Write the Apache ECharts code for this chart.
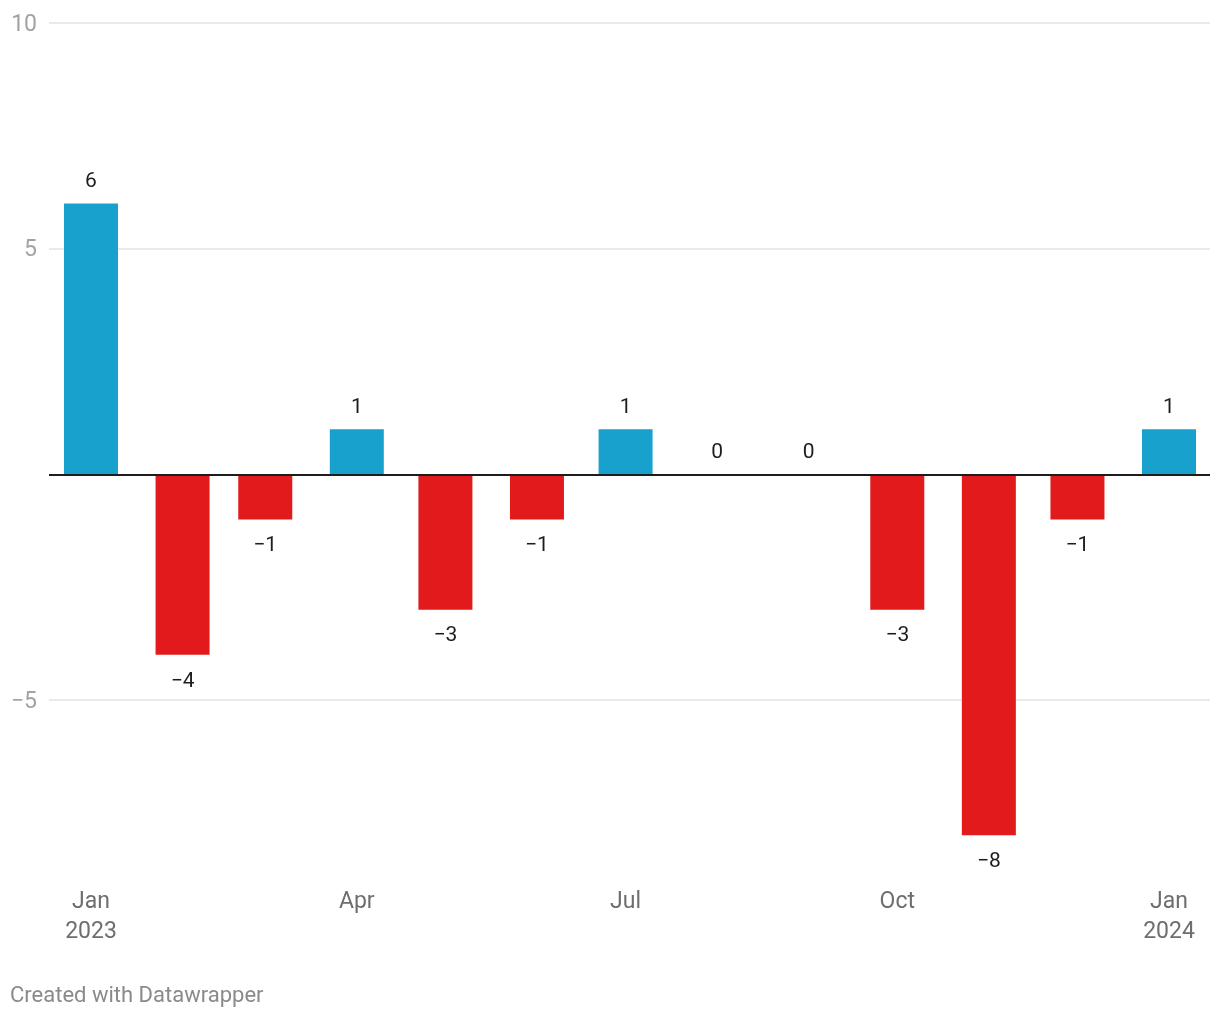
<!DOCTYPE html>
<html>
<head>
<meta charset="utf-8">
<script src="https://cdn.jsdelivr.net/npm/echarts@6/dist/echarts.min.js"></script>
<style>
html,body{margin:0;padding:0;background:#fff;}
#chart{width:1220px;height:1020px;}
</style>
</head>
<body>
<div id="chart"></div>
<script>
// Data
const months = ['2023-01','2023-02','2023-03','2023-04','2023-05','2023-06','2023-07','2023-08','2023-09','2023-10','2023-11','2023-12','2024-01'];
const values = [6, -4, -1, 1, -3, -1, 1, 0, 0, -3, -8, -1, 1];
const tickMonths = ['2023-01','2023-04','2023-07','2023-10','2024-01'];
const tickLabels = ['Jan\n2023','Apr','Jul','Oct','Jan\n2024'];
const yTicks = [-5, 5, 10];

const DAY = 86400000;
const origin = Date.UTC(2023, 0, 1);
function dayOf(s){ const p = s.split('-'); return (Date.UTC(+p[0], +p[1]-1, 1) - origin) / DAY; }
const tickDays = tickMonths.map(dayOf);
const fmtNum = v => (v < 0 ? '\u2212' + Math.abs(v) : String(v));

const blue = '#18a1cd', red = '#e31a1c';
const barData = months.map((m, i) => {
  const v = values[i];
  return {
    value: [dayOf(m), v],
    itemStyle: { color: v < 0 ? red : blue },
    label: { position: v < 0 ? 'bottom' : 'top', distance: v < 0 ? 16 : 11 }
  };
});

const chart = echarts.init(document.getElementById('chart'), null, {renderer: 'canvas'});
chart.setOption({
  animation: false,
  textStyle: { fontFamily: 'Roboto' },
  grid: { left: 49, right: 10, top: 23, bottom: 139.5, containLabel: false },
  xAxis: {
    type: 'value',
    min: -14.22,
    max: 378.88,
    axisLine: { show: false },
    axisTick: { show: false, customValues: tickDays },
    splitLine: { show: false },
    axisLabel: {
      customValues: tickDays,
      formatter: v => { const i = tickDays.indexOf(v); return i >= 0 ? tickLabels[i] : ''; },
      color: '#6e6e6e', fontSize: 23, lineHeight: 30, margin: 7, fontFamily: 'Roboto'
    }
  },
  yAxis: {
    type: 'value',
    min: -9,
    max: 10,
    axisLine: { show: false },
    axisTick: { show: false, customValues: yTicks },
    splitLine: { show: true, lineStyle: { color: '#e3e3e3', width: 1.5 } },
    axisLabel: {
      customValues: yTicks,
      formatter: v => '{t|' + fmtNum(v) + '}',
      margin: 12,
      rich: {
        t: { color: '#a3a3a3', fontSize: 23, fontFamily: 'Roboto', lineHeight: 26, padding: [4, 0, 0, 0] }
      }
    }
  },
  series: [{
    type: 'bar',
    barWidth: 54,
    data: barData,
    label: {
      show: true,
      color: '#1d1d1d',
      fontSize: 21,
      fontFamily: 'Roboto',
      formatter: p => fmtNum(p.value[1])
    },
    markLine: {
      silent: true,
      symbol: 'none',
      label: { show: false },
      lineStyle: { color: '#1d1d1d', width: 2, type: 'solid' },
      data: [{ yAxis: 0 }],
      z: 10
    }
  }],
  graphic: [{
    type: 'text',
    left: 10,
    top: 985,
    style: { text: 'Created with Datawrapper', fill: '#8a8a8a', fontSize: 22, fontFamily: 'Roboto' }
  }]
});
</script>
</body>
</html>
